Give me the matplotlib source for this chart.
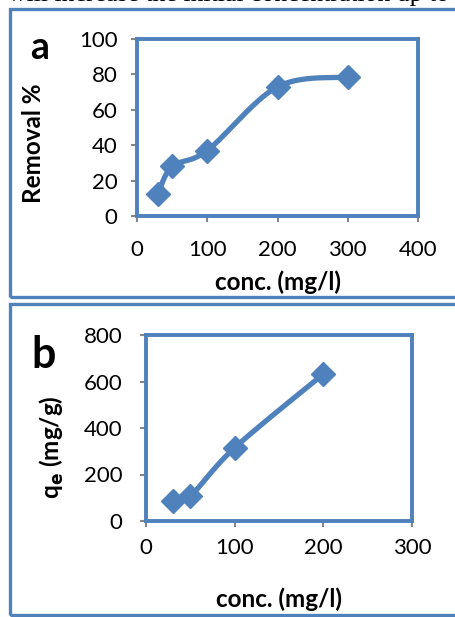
import numpy as np
import matplotlib.pyplot as plt
from matplotlib.patches import Rectangle

# removal efficiency vs initial concentration
conc_a = [30, 50, 100, 200, 300]
removal = [12.5, 28, 37, 73, 78.5]

# adsorption capacity vs initial concentration
conc_b = [30, 50, 100, 200]
qe = [85, 108, 315, 632]

BLUE = '#4F81BD'
GRAY = '#868686'
W, H = 455, 617

plt.rcParams['font.family'] = ['Lato', 'DejaVu Sans']


def smooth_line(x, y, sx, sy, n=40):
    """Catmull-Rom style Bezier through the points, computed in pixel-like space."""
    p = np.column_stack([np.asarray(x, float) * sx, np.asarray(y, float) * sy])
    out = []
    for i in range(len(p) - 1):
        p0 = p[i - 1] if i > 0 else p[i]
        p1, p2 = p[i], p[i + 1]
        p3 = p[i + 2] if i + 2 < len(p) else p[i + 1]
        c1 = p1 + (p2 - p0) / 6
        c2 = p2 - (p3 - p1) / 6
        t = np.linspace(0, 1, n)[:, None]
        seg = ((1 - t) ** 3 * p1 + 3 * (1 - t) ** 2 * t * c1
               + 3 * (1 - t) * t ** 2 * c2 + t ** 3 * p2)
        out.append(seg if i == 0 else seg[1:])
    out = np.vstack(out)
    return out[:, 0] / sx, out[:, 1] / sy


def px_axes(fig, left, top, right, bottom):
    return fig.add_axes([left / W, 1 - bottom / H, (right - left) / W, (bottom - top) / H])


def style_axes(ax, xpad, ypad):
    for s in ax.spines.values():
        s.set_color(BLUE)
        s.set_linewidth(2.8)
    ax.tick_params(direction='out', length=4, width=1.5, color=GRAY,
                   labelsize=16, labelcolor='black')
    ax.tick_params(axis='x', pad=xpad)
    ax.tick_params(axis='y', pad=ypad)


fig = plt.figure(figsize=(W / 100, H / 100), dpi=100)

fig.text(8 / W, 1 - 1.5 / H, 'will increase the initial concentration up to the',
         family='Liberation Serif', fontsize=18.5, va='baseline', ha='left')

# outer frames around each panel
for top, bottom in [(8.5, 296.5), (303.5, 614.5)]:
    fig.add_artist(Rectangle((10 / W, 1 - bottom / H), 480 / W, (bottom - top) / H,
                             transform=fig.transFigure, fill=False,
                             edgecolor=BLUE, linewidth=2.4))

# panel a
ax1 = px_axes(fig, 137, 39, 418, 216)
sx, sy = 281 / 400, 177 / 100
lx, ly = smooth_line(conc_a, removal, sx, sy)
ax1.plot(lx, ly, color=BLUE, linewidth=3.8, solid_capstyle='round')
ax1.plot(conc_a, removal, 'D', color=BLUE, markersize=12)
ax1.set_xlim(0, 400)
ax1.set_ylim(0, 100)
ax1.set_xticks([0, 100, 200, 300, 400])
ax1.set_yticks([0, 20, 40, 60, 80, 100])
style_axes(ax1, 13, 10)
ax1.set_xlabel('conc. (mg/l)', fontsize=17.5, fontweight='bold')
ax1.set_ylabel('Removal %', fontsize=17.5, fontweight='bold')
ax1.xaxis.set_label_coords(0.502, -0.305)
ax1.yaxis.set_label_coords(-0.327, 0.412)
fig.text(40 / W, 1 - 48 / H, 'a', fontsize=27, fontweight='bold',
         ha='center', va='center')

# panel b
ax2 = px_axes(fig, 146, 335, 412, 521)
sx, sy = 266 / 300, 186 / 800
lx, ly = smooth_line(conc_b, qe, sx, sy)
ax2.plot(lx, ly, color=BLUE, linewidth=3.8, solid_capstyle='round')
ax2.plot(conc_b, qe, 'D', color=BLUE, markersize=12)
ax2.set_xlim(0, 300)
ax2.set_ylim(0, 800)
ax2.set_xticks([0, 100, 200, 300])
ax2.set_yticks([0, 200, 400, 600, 800])
style_axes(ax2, 8, 13)
ax2.set_xlabel('conc. (mg/l)', fontsize=17.5, fontweight='bold')
ax2.set_ylabel(r'q$_\mathbf{e}$ (mg/g)', fontsize=17.5, fontweight='bold')
ax2.xaxis.set_label_coords(0.5, -0.355)
ax2.yaxis.set_label_coords(-0.301, 0.398)
fig.text(44 / W, 1 - 355 / H, 'b', fontsize=31, fontweight='bold',
         ha='center', va='center')

fig.savefig('out.png', dpi=100)
